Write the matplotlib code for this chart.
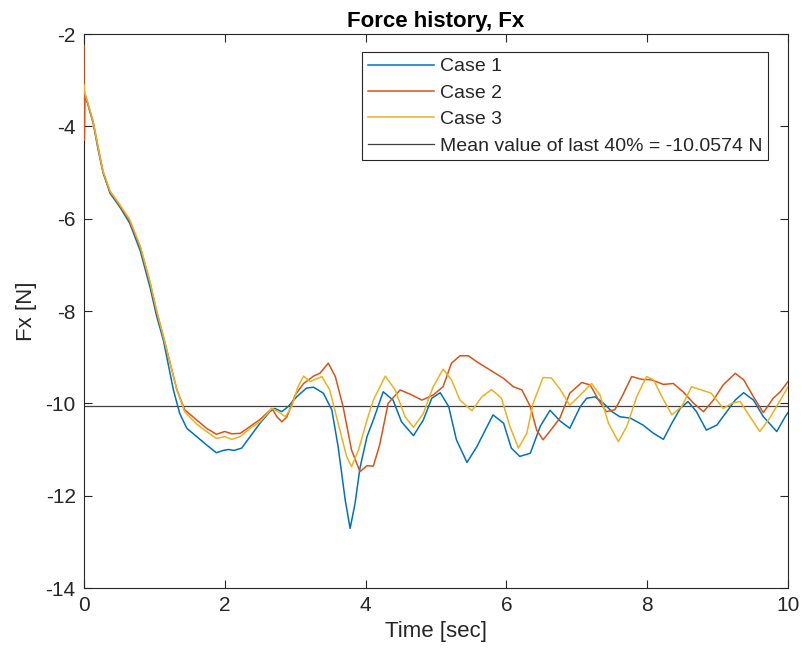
import matplotlib
matplotlib.use("Agg")
import matplotlib.pyplot as plt

# ---- data ----
t1 = [0, 0.05, 0.13, 0.2, 0.27, 0.37, 0.51, 0.65, 0.8, 0.94, 1.03, 1.127, 1.27, 1.36, 1.46, 1.6,
      1.74, 1.88, 1.98, 2.05, 2.13, 2.24, 2.36, 2.5, 2.64, 2.71, 2.81, 2.9, 3.02, 3.16, 3.26, 3.4,
      3.52, 3.61, 3.71, 3.78, 3.85, 3.92, 4.02, 4.11, 4.25, 4.39, 4.51, 4.68, 4.82, 4.94, 5.06,
      5.18, 5.29, 5.44, 5.58, 5.81, 5.96, 6.07, 6.19, 6.34, 6.48, 6.62, 6.76, 6.9, 7.05, 7.14,
      7.26, 7.38, 7.5, 7.61, 7.76, 7.94, 8.09, 8.23, 8.35, 8.47, 8.58, 8.7, 8.84, 8.99, 9.13, 9.25,
      9.37, 9.51, 9.65, 9.84, 9.96, 10.0]
case1 = [-3.3, -3.5, -3.93, -4.5, -5.0, -5.45, -5.75, -6.1, -6.7, -7.5, -8.1, -8.63, -9.71, -10.22,
         -10.54, -10.72, -10.9, -11.07, -11.02, -11.0, -11.02, -10.97, -10.72, -10.43, -10.18,
         -10.11, -10.18, -10.07, -9.86, -9.67, -9.65, -9.78, -10.14, -10.94, -12.09, -12.71,
         -12.17, -11.4, -10.72, -10.36, -9.75, -9.93, -10.4, -10.7, -10.36, -9.89, -9.77, -10.07,
         -10.79, -11.28, -10.94, -10.25, -10.43, -10.97, -11.15, -11.08, -10.5, -10.15, -10.38,
         -10.54, -10.07, -9.89, -9.86, -10.0, -10.18, -10.29, -10.32, -10.47, -10.65, -10.78,
         -10.43, -10.11, -9.96, -10.18, -10.58, -10.47, -10.18, -9.93, -9.77, -9.93, -10.29,
         -10.61, -10.29, -10.2]

t2 = [0, 0.005, 0.015, 0.05, 0.13, 0.2, 0.27, 0.37, 0.51, 0.65, 0.8, 0.94, 1.03, 1.135, 1.32,
      1.43, 1.6, 1.74, 1.88, 2.0, 2.1, 2.22, 2.36, 2.5, 2.67, 2.74, 2.81, 2.88, 3.0, 3.12, 3.26,
      3.35, 3.47, 3.57, 3.68, 3.8, 3.92, 4.02, 4.11, 4.2, 4.32, 4.49, 4.63, 4.8, 4.96, 5.1, 5.22,
      5.34, 5.46, 5.58, 5.77, 5.96, 6.1, 6.22, 6.34, 6.43, 6.52, 6.64, 6.76, 6.9, 7.07, 7.19,
      7.31, 7.42, 7.54, 7.64, 7.78, 7.92, 8.06, 8.23, 8.37, 8.51, 8.66, 8.8, 8.94, 9.08, 9.25,
      9.37, 9.51, 9.65, 9.79, 9.89, 10.0]
case2 = [-2.25, -4.3, -3.3, -3.48, -3.9, -4.45, -4.98, -5.42, -5.72, -6.05, -6.62, -7.4, -8.0,
         -8.6, -9.71, -10.14, -10.36, -10.54, -10.67, -10.61, -10.66, -10.65, -10.5, -10.35,
         -10.11, -10.29, -10.4, -10.3, -9.82, -9.57, -9.41, -9.35, -9.13, -9.42, -10.07, -11.01,
         -11.48, -11.35, -11.36, -10.9, -10.0, -9.71, -9.8, -9.93, -9.82, -9.64, -9.13, -8.97,
         -8.97, -9.1, -9.28, -9.46, -9.64, -9.71, -10.07, -10.58, -10.79, -10.56, -10.32, -9.78,
         -9.55, -9.6, -9.93, -10.18, -10.14, -9.86, -9.42, -9.48, -9.49, -9.59, -9.57, -9.75,
         -10.0, -10.18, -9.93, -9.6, -9.35, -9.49, -9.86, -10.2, -9.89, -9.75, -9.53]

t3 = [0, 0.015, 0.05, 0.13, 0.2, 0.27, 0.37, 0.51, 0.65, 0.8, 0.94, 1.03, 1.135, 1.32, 1.43,
      1.6, 1.74, 1.88, 2.0, 2.1, 2.22, 2.36, 2.5, 2.67, 2.76, 2.86, 2.95, 3.04, 3.12, 3.21, 3.38,
      3.49, 3.61, 3.73, 3.8, 3.9, 4.02, 4.11, 4.28, 4.42, 4.56, 4.68, 4.82, 4.96, 5.1, 5.22,
      5.34, 5.51, 5.65, 5.79, 5.93, 6.05, 6.17, 6.29, 6.38, 6.52, 6.64, 6.76, 6.9, 7.05, 7.21,
      7.33, 7.45, 7.59, 7.71, 7.85, 7.99, 8.09, 8.21, 8.35, 8.49, 8.63, 8.77, 8.91, 9.08, 9.2,
      9.32, 9.46, 9.6, 9.74, 9.89, 10.0]
case3 = [-3.1, -3.3, -3.47, -3.9, -4.45, -4.97, -5.4, -5.7, -6.02, -6.6, -7.38, -7.98, -8.6,
         -9.71, -10.18, -10.45, -10.61, -10.76, -10.72, -10.78, -10.72, -10.54, -10.4, -10.11,
         -10.18, -10.29, -10.07, -9.64, -9.41, -9.53, -9.42, -9.71, -10.43, -11.15, -11.37,
         -11.01, -10.36, -9.93, -9.41, -9.71, -10.29, -10.52, -10.22, -9.64, -9.26, -9.49, -9.93,
         -10.16, -9.86, -9.7, -9.89, -10.5, -10.97, -10.65, -10.0, -9.44, -9.45, -9.69, -10.04,
         -9.82, -9.57, -9.82, -10.43, -10.83, -10.5, -9.86, -9.42, -9.49, -9.86, -10.25, -10.07,
         -9.64, -9.71, -9.78, -10.11, -10.0, -9.96, -10.29, -10.61, -10.32, -9.93, -9.65]

mean_value = -10.0574
labels = ["Case 1", "Case 2", "Case 3", "Mean value of last 40% = -10.0574 N"]
xticks = [0, 2, 4, 6, 8, 10]
yticks = [-14, -12, -10, -8, -6, -4, -2]

plt.rcParams['font.family'] = ['Liberation Sans', 'DejaVu Sans']
plt.rcParams['axes.unicode_minus'] = False

fig = plt.figure(figsize=(8.02, 6.62), dpi=100)
ax = fig.add_axes([84/802, 74/662, 704/802, 554/662])

c_blue, c_red, c_yel = '#0072BD', '#D95319', '#EDB120'
ax.plot(t1, case1, color=c_blue, lw=1.1, label=labels[0], zorder=3)
ax.plot(t2, case2, color=c_red, lw=1.1, label=labels[1], zorder=3)
ax.plot(t3, case3, color=c_yel, lw=1.1, label=labels[2], zorder=3)
ax.axhline(mean_value, color='#404040', lw=0.9, label=labels[3], zorder=2)

ax.set_xlim(0, 10)
ax.set_ylim(-14, -2)
ax.set_xticks(xticks)
ax.set_yticks(yticks)
ax.tick_params(direction='in', top=True, right=True, length=6, width=0.8,
               labelsize=15, colors='#262626', pad=6)
for s in ax.spines.values():
    s.set_color('#262626')
    s.set_linewidth(0.8)

ax.set_xlabel('Time [sec]', fontsize=16, color='#262626', labelpad=4)
ax.set_ylabel('Fx [N]', fontsize=16, color='#262626', labelpad=6)
ax.set_title('Force history, Fx', fontsize=16, fontweight='bold', color='black', pad=5)

leg = ax.legend(loc='upper right', bbox_to_anchor=(0.9716, 0.9675), borderaxespad=0,
                fontsize=14, fancybox=False, framealpha=1, edgecolor='#262626',
                handlelength=3.4, handletextpad=0.3, labelspacing=0.45, borderpad=0.3)
leg.get_frame().set_linewidth(0.8)
for txt in leg.get_texts():
    txt.set_color('#262626')

fig.savefig('out.png', dpi=100)
